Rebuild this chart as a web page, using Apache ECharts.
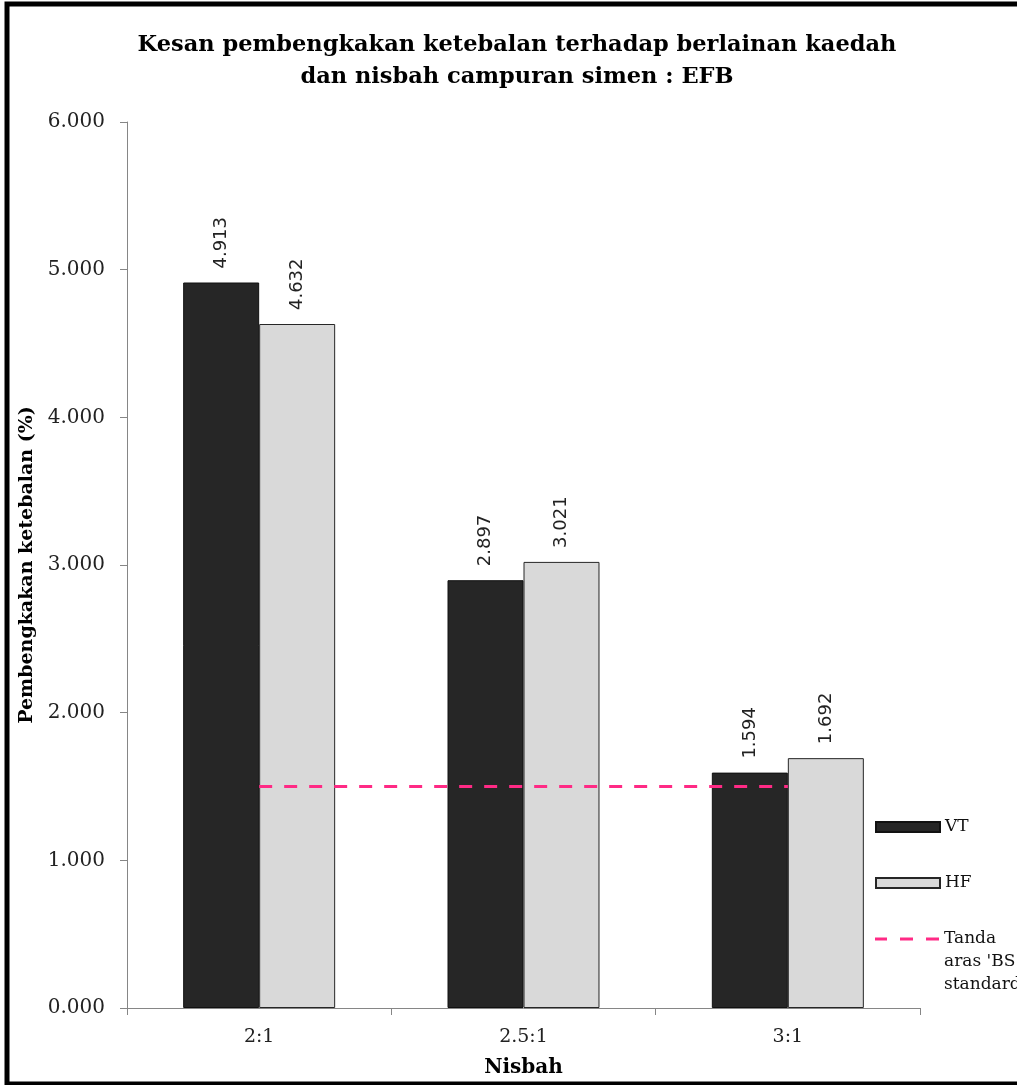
<!DOCTYPE html>
<html>
<head>
<meta charset="utf-8">
<script src="https://cdn.jsdelivr.net/npm/echarts@6/dist/echarts.min.js"></script>
<style>
html,body{margin:0;padding:0;background:#fff;}
#chart{width:1017px;height:1085px;}
</style>
</head>
<body>
<div id="chart"></div>
<script>
var categories = ['2:1', '2.5:1', '3:1'];
var vtValues = [4.913, 2.897, 1.594];
var hfValues = [4.632, 3.021, 1.692];
var bsStandard = [1.5, 1.5, 1.5];
var yTicks = { min: 0, max: 6, interval: 1 };
var titleText = 'Kesan pembengkakan ketebalan terhadap berlainan kaedah\ndan nisbah campuran simen : EFB';
var yName = 'Pembengkakan ketebalan (%)';
var xName = 'Nisbah';
var lineName = "Tanda aras 'BS standard'";
var lineLegendText = "\n\nTanda\naras 'BS\nstandard'";

var SERIF = 'DejaVu Serif';
var SANS = 'DejaVu Sans';
var axisColor = '#868686';

var chart = echarts.init(document.getElementById('chart'), null, {renderer: 'canvas'});

var labelStyle = {
  show: true,
  position: 'top',
  distance: 14,
  rotate: 90,
  align: 'left',
  verticalAlign: 'middle',
  fontFamily: SANS,
  fontSize: 18,
  color: '#222',
  formatter: function (p) { return p.value.toFixed(3); }
};

var option = {
  backgroundColor: '#fff',
  animation: false,
  title: {
    text: titleText,
    left: 517,
    textAlign: 'center',
    top: 23,
    padding: [6, 0, 6, 0],
    textStyle: {
      fontFamily: SERIF,
      fontWeight: 'bold',
      fontSize: 22.5,
      lineHeight: 32,
      color: '#000'
    }
  },
  legend: [{
    orient: 'vertical',
    left: 875,
    top: 817,
    itemWidth: 64,
    itemHeight: 10,
    itemGap: 36,
    padding: 0,
    selectedMode: false,
    icon: 'rect',
    data: ['VT', 'HF'],
    textStyle: { fontFamily: SERIF, fontSize: 17, lineHeight: 20, color: '#111' }
  }, {
    orient: 'vertical',
    left: 875,
    top: 881.5,
    itemWidth: 64,
    itemHeight: 3,
    padding: 0,
    selectedMode: false,
    data: [{ name: lineName, icon: 'path://M0,0H12V3H0Z M25,0H38V3H25Z M51,0H64V3H51Z' }],
    formatter: function () { return lineLegendText; },
    textStyle: { fontFamily: SERIF, fontSize: 17, lineHeight: 23, color: '#111' }
  }],
  grid: { left: 127, right: 97, top: 122, bottom: 77, containLabel: false },
  xAxis: {
    type: 'category',
    data: categories,
    name: xName,
    nameLocation: 'middle',
    nameGap: 49,
    nameTextStyle: { fontFamily: SERIF, fontWeight: 'bold', fontSize: 20, lineHeight: 22, color: '#000' },
    axisLine: { show: true, lineStyle: { color: axisColor, width: 1 } },
    axisTick: { show: true, length: 7, alignWithLabel: false, lineStyle: { color: axisColor } },
    axisLabel: { margin: 19, fontFamily: SERIF, fontSize: 19, lineHeight: 20, color: '#222' },
    splitLine: { show: false }
  },
  yAxis: {
    type: 'value',
    min: yTicks.min,
    max: yTicks.max,
    interval: yTicks.interval,
    name: yName,
    nameLocation: 'middle',
    nameGap: 82,
    nameRotate: 90,
    nameTextStyle: { fontFamily: SERIF, fontWeight: 'bold', fontSize: 19, color: '#000' },
    axisLine: { show: true, lineStyle: { color: axisColor, width: 1 } },
    axisTick: { show: true, length: 7, lineStyle: { color: axisColor } },
    axisLabel: {
      margin: 22,
      fontFamily: SERIF,
      fontSize: 20,
      color: '#222',
      formatter: function (v) { return v.toFixed(3); }
    },
    splitLine: { show: false }
  },
  series: [{
    name: 'VT',
    type: 'bar',
    data: vtValues,
    barGap: '0%',
    barCategoryGap: '42.5%',
    itemStyle: { color: '#262626', borderColor: '#111', borderWidth: 1 },
    label: labelStyle,
    z: 2
  }, {
    name: 'HF',
    type: 'bar',
    data: hfValues,
    itemStyle: { color: '#d9d9d9', borderColor: '#262626', borderWidth: 1 },
    label: labelStyle,
    z: 2
  }, {
    name: lineName,
    type: 'line',
    data: bsStandard,
    symbol: 'none',
    lineStyle: { color: '#ff2a85', width: 3, type: [13, 12] },
    itemStyle: { color: '#ff2a85' },
    z: 5
  }],
  graphic: [{
    type: 'rect',
    silent: true,
    z: 100,
    shape: { x: 7, y: 4, width: 1200, height: 1080 },
    style: { fill: 'none', stroke: '#000', lineWidth: 5 }
  }]
};

chart.setOption(option);
</script>
</body>
</html>
